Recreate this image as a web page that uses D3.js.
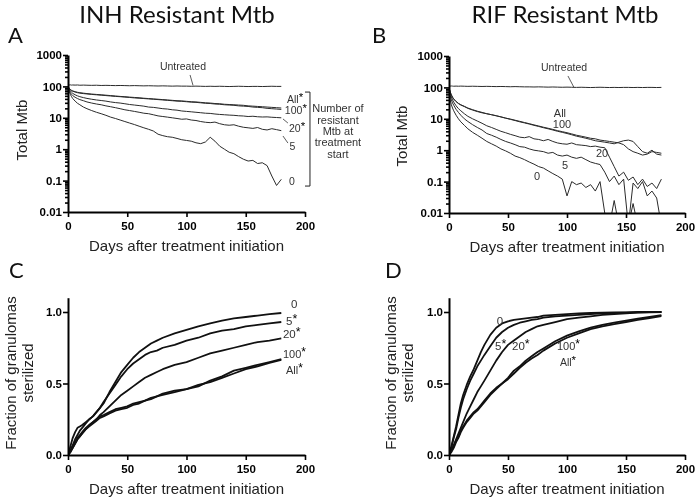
<!DOCTYPE html>
<html><head><meta charset="utf-8">
<script src="https://cdn.jsdelivr.net/npm/d3@7/dist/d3.min.js"></script>
<style>body{margin:0;background:#fff}svg{display:block;font-family:"Liberation Sans",Arial,sans-serif;opacity:0.999;will-change:transform}</style>
</head><body><svg id="c" width="698" height="501"></svg>
<script>
// ---------- DATA ----------
const daysTop = [0,1,2,3,4,6,8,10,13,16,20,24,28,32,36,40,44,48,52,56,60,64,68,72,76,80,84,88,92,96,100,104,108,112,116,120,124,128,132,136,140,144,148,152,156,160,164,168,172,176,180];
const daysBottom = [0,2,4,6,8,10,12,15,18,21,24,27,30,35,40,45,50,55,60,65,70,75,80,90,100,110,120,130,140,150,160,170,180];
const xTicks = [0,50,100,150,200];
const yTicksLog = [0.01,0.1,1,10,100,1000];
const yTickLabelsLog = ["0.01","0.1","1","10","100","1000"];
const yTicksFrac = [0,0.5,1.0];
const yTickLabelsFrac = ["0.0","0.5","1.0"];

// Panel A: INH resistant, total Mtb
const inhUntreated = [112,111,112,110,111,110,111,109,110,109, 108,109,107,108,107,106,107,106,105,106, 105,104,105,104,103,104,103,102,103,102, 102,101,102,101,100,101,100,101,100,99, 100,101,100,99,100,100,99,100,101,100, 100];
const inhAll = [100,88,80,75,72,68,65,63,61,59, 57,55.5,54,52.5,51,49.5,48,47,45.5,44.5, 43.5,42,41,40,39,38,37,36,35,34.5, 33.5,32.5,32,31,30,29.5,28.5,28,27,26.5, 26,25.5,25,24,23.5,23,22.5,22,21.5,21, 20.5];
const inh100 = [100,86,78,73,70,66,63,61,59,57.5, 55.5,54,52.5,51,49.5,48,47,45.5,44.5,43, 42,41,40,39,38,37,36,35,34,33.5, 32.5,31.5,31,30,29,28.5,27.5,27,26,25.5, 25,24,23.5,23,22,21.5,21,20,19.5,19, 18.5];
const inh20 = [100,82,72,65,60,54,50,47,44,41.5, 39,37,35.5,34,32,30.5,29.5,28,26.5,25.5, 24.5,23.5,22,21.5,20.5,19.5,19,18,17.5,16.5, 16,15.5,15,14.5,14,13.8,13.2,12.8,12.5,12.2, 12,11.6,11.4,11,11.2,10.8,10.6,10.7,10.4,10.2, 10];
const inh5 = [100,76,63,56,51,45,41,38,35,32, 29.5,27.5,26,24,22.5,21,19.5,18,17,16, 15,14,13.5,12.5,11.5,11,10.5,10,9.5,9, 9.2,8.5,8.2,7.6,7.2,7,7.3,6.5,6,5.8, 6,5.4,5,4.8,4.6,4.9,4.3,4.1,4.5,4.2, 3.9];
const inh0 = [100,70,56,47,41,34,29,26,22,19.5, 17,15,13.5,12,10.5,9.5,8.5,7.6,6.8,6.1, 5.4,4.8,4.3,3.8,3.0,2.7,2.5,2.4,2.2,2.0, 1.9,1.8,1.6,1.5,1.7,2.4,1.8,1.25,1.0,0.8, 0.72,0.58,0.48,0.42,0.44,0.35,0.37,0.3,0.14,0.07, 0.11];

// Panel B: RIF resistant, total Mtb
const rifUntreated = [112,110,111,110,109,110,109,110,109,108, 109,108,107,108,107,106,107,106,105,106, 105,104,104,103,104,103,102,103,102,101, 102,101,100,101,100,99,100,101,100,99, 100,99,100,100,99,100,99,100,100,99, 100];
const rifAll = [100,72,58,49,43,36,31,28,25,22, 19.5,17.5,16,14.5,13.5,12.5,11.5,10.5,9.8,9, 8.3,7.6,7,6.4,5.9,5.4,5,4.6,4.2,3.9, 3.6,3.3,3.0,2.8,2.6,2.4,2.3,2.1,2.0,1.9, 1.8,1.7,1.5,1.1,0.9,0.8,0.7,0.75,0.9,0.85, 0.8];
const rif100 = [100,70,57,48,42,35,30.5,27.5,24.5,21.5, 19,17,15.5,14.5,13.5,12.5,11.5,10.5,9.6,8.8, 8,7.4,6.8,6.2,5.7,5.2,4.8,4.4,4,3.7, 3.4,3.1,2.8,2.6,2.4,2.2,2.0,1.9,1.8,1.7, 1.6,1.8,2.0,2.1,1.9,1.3,0.9,0.8,1.0,0.75, 0.7];
const rif20 = [100,65,50,40,34,26,21,18,14.5,12, 10,8.5,7.2,6.0,5.3,4.6,4.0,3.6,3.2,2.9, 2.6,2.5,2.7,2.3,2.2,2.0,2.2,1.9,1.7,1.6, 1.55,1.7,1.5,1.45,1.4,1.3,1.35,1.25,1.2,0.6, 0.3,0.15,0.2,0.11,0.14,0.08,0.12,0.07,0.09,0.06, 0.12];
const rif5 = [100,55,40,32,27,20,16,13,10,8.2, 6.5,5.3,4.4,3.4,3.0,2.6,2.2,1.9,1.7,1.5, 1.3,1.25,1.1,1.0,0.95,0.9,0.8,0.85,0.7,0.65, 0.7,0.6,0.55,0.6,0.5,0.42,0.38,0.35,0.2,0.1, 0.15,0.08,0.12,0.004,0.09,0.06,0.1,0.035,0.05,0.03, 0.004];
const rif0 = [100,40,28,22,18,13,10,8,6.2,4.8, 3.7,3.0,2.4,1.9,1.6,1.35,1.1,0.95,0.8,0.65, 0.58,0.5,0.42,0.36,0.3,0.27,0.22,0.18,0.15,0.12, 0.035,0.1,0.08,0.09,0.065,0.08,0.05,0.1,0.01,0.004, 0.025,0.004,0.004,0.004,0.02,0.004,0.004,0.004,0.004,0.004, 0.004];

// Panel C: INH, fraction of granulomas sterilized
const inhSter0 = [0,0.06,0.12,0.16,0.19,0.2,0.21, 0.23,0.25,0.27,0.3,0.33,0.36, 0.44,0.51,0.58,0.63,0.68,0.72,0.75,0.78,0.8,0.82, 0.85,0.875,0.9,0.92,0.94,0.955,0.965,0.975,0.985,0.993];
const inhSter5 = [0,0.03,0.07,0.11,0.14,0.17,0.19, 0.22,0.25,0.27,0.3,0.33,0.37, 0.43,0.49,0.55,0.6,0.64,0.67,0.7,0.72,0.73,0.75, 0.77,0.8,0.82,0.85,0.87,0.88,0.9,0.91,0.92,0.93];
const inhSter20 = [0,0.02,0.05,0.08,0.11,0.13,0.15, 0.18,0.21,0.23,0.25,0.28,0.3, 0.34,0.38,0.42,0.45,0.48,0.51,0.54,0.56,0.58,0.6, 0.63,0.65,0.68,0.71,0.73,0.75,0.77,0.79,0.8,0.815];
const inhSter100 = [0,0.03,0.06,0.09,0.12,0.14,0.16, 0.19,0.21,0.23,0.25,0.27,0.28, 0.3,0.32,0.33,0.34,0.36,0.37,0.38,0.4,0.41,0.42, 0.44,0.46,0.48,0.52,0.55,0.59,0.61,0.63,0.65,0.67];
const inhSterAll = [0,0.02,0.05,0.08,0.11,0.13,0.15, 0.18,0.2,0.22,0.24,0.26,0.27, 0.29,0.31,0.32,0.33,0.35,0.36,0.38,0.39,0.41,0.43, 0.45,0.46,0.49,0.51,0.54,0.57,0.6,0.62,0.645,0.665];

// Panel D: RIF, fraction of granulomas sterilized
const rifSter0 = [0,0.06,0.13,0.2,0.28,0.36,0.42, 0.49,0.55,0.6,0.66,0.72,0.77, 0.84,0.89,0.92,0.935,0.945,0.95,0.955,0.96,0.965,0.975, 0.98,0.985,0.99,0.993,0.995,0.997,0.998,1,1,1];
const rifSter5 = [0,0.05,0.12,0.18,0.26,0.33,0.39, 0.46,0.52,0.57,0.62,0.66,0.7, 0.76,0.82,0.86,0.89,0.91,0.925,0.935,0.945,0.95,0.96, 0.97,0.975,0.98,0.985,0.99,0.993,0.996,0.998,1,1];
const rifSter20 = [0,0.03,0.07,0.11,0.15,0.19,0.23, 0.29,0.34,0.39,0.44,0.48,0.52, 0.59,0.66,0.72,0.77,0.8,0.83,0.86,0.88,0.9,0.91, 0.93,0.95,0.96,0.97,0.98,0.985,0.99,0.995,0.998,1];
const rifSter100 = [0,0.03,0.06,0.1,0.13,0.17,0.2, 0.24,0.27,0.3,0.32,0.35,0.38, 0.43,0.47,0.5,0.54,0.59,0.62,0.66,0.69,0.72,0.745, 0.795,0.835,0.865,0.89,0.91,0.925,0.94,0.953,0.965,0.978];
const rifSterAll = [0,0.02,0.05,0.09,0.12,0.16,0.19, 0.23,0.26,0.29,0.31,0.34,0.37, 0.42,0.46,0.5,0.53,0.57,0.61,0.645,0.675,0.70,0.73, 0.78,0.82,0.85,0.88,0.9,0.915,0.93,0.945,0.958,0.972];

// ---------- DRAWING ----------
const svg = d3.select("#c");
const minorLog = [];
for (let k = -2; k < 3; k++) for (let m = 2; m < 10; m++) minorLog.push(m * Math.pow(10, k));

function styleAxis(a) {
  a.select(".domain").attr("stroke", "#000").attr("stroke-width", 2);
  a.selectAll(".tick line").attr("stroke", "#000").attr("stroke-width", 1.6);
  a.selectAll(".tick text").attr("font-family", "Liberation Sans, Arial, sans-serif")
    .attr("font-weight", "bold").attr("font-size", 11.5).attr("fill", "#000");
}

function addText(g, t, x, y, opts = {}) {
  const size = opts.size || 11;
  const el = g.append("text").attr("x", x).attr("y", y)
    .attr("text-anchor", opts.anchor || "start")
    .attr("font-size", size)
    .attr("fill", opts.fill || "#333");
  const parts = t.split("*");
  el.append("tspan").text(parts[0]);
  if (t.includes("*")) el.append("tspan").text("*").attr("dy", -2).attr("font-size", size + 1).attr("fill", "#000");
  return el;
}

function drawPanel(o) {
  const g = svg.append("g");
  const x = d3.scaleLinear().domain([0, 200]).range(o.xr);
  const y = o.log ? d3.scaleLog().domain([0.01, 1000]).range(o.yr)
                  : d3.scaleLinear().domain([0, 1.1]).range(o.yr);
  const days = o.log ? daysTop : daysBottom;
  const clipId = "clip" + o.key;
  svg.append("clipPath").attr("id", clipId).append("rect")
    .attr("x", o.xr[0]).attr("y", o.yr[1]).attr("width", o.xr[1] - o.xr[0]).attr("height", o.yr[0] - o.yr[1]);
  const line = d3.line().x((d, i) => x(days[i])).y(d => y(d));
  o.series.forEach(s => {
    g.append("path").attr("d", line(s)).attr("fill", "none")
      .attr("stroke", o.log ? "#2a2a2a" : "#111")
      .attr("stroke-width", o.log ? 1 : 1.8)
      .attr("stroke-linejoin", "round")
      .attr("clip-path", `url(#${clipId})`);
  });
  // axes
  if (o.log) {
    g.append("g").attr("transform", `translate(${o.xr[0]},0)`)
      .call(d3.axisLeft(y).tickValues(minorLog).tickSize(3).tickFormat(""))
      .call(a => { a.select(".domain").remove(); a.selectAll(".tick line").attr("stroke-width", 1.6); });
    g.append("g").attr("transform", `translate(${o.xr[0]},0)`)
      .call(d3.axisLeft(y).tickValues(yTicksLog).tickSize(5).tickSizeOuter(0).tickPadding(1)
        .tickFormat((d, i) => yTickLabelsLog[i]))
      .call(styleAxis);
  } else {
    g.append("g").attr("transform", `translate(${o.xr[0]},0)`)
      .call(d3.axisLeft(y).tickValues(yTicksFrac).tickSize(5).tickSizeOuter(0).tickPadding(1)
        .tickFormat((d, i) => yTickLabelsFrac[i]))
      .call(styleAxis);
  }
  g.append("g").attr("transform", `translate(0,${o.yr[0]})`)
    .call(d3.axisBottom(x).tickValues(xTicks).tickSize(5).tickSizeOuter(0).tickPadding(5))
    .call(styleAxis);

  // axis titles
  g.append("text").attr("x", d3.mean(o.xr)).attr("y", o.yr[0] + 39).attr("text-anchor", "middle")
    .attr("font-size", 15).attr("font-weight", 400).attr("fill", "#222").text("Days after treatment initiation");
  o.yTitle.forEach((t, i) => {
    g.append("text").attr("transform", `translate(${o.yTitleX[i]},${o.yTitleY}) rotate(-90)`)
      .attr("text-anchor", "middle").attr("font-size", 15).attr("font-weight", 400).attr("fill", "#222").text(t);
  });
  // labels
  o.labels.forEach(l => addText(g, l.t, x(l.d), y(l.v), { anchor: l.a || "start", size: l.s || 11 }));
  (o.leaders || []).forEach(l => g.append("line")
    .attr("x1", x(l[0])).attr("y1", y(l[1])).attr("x2", x(l[2])).attr("y2", y(l[3]))
    .attr("stroke", "#333").attr("stroke-width", 0.8));
  return { g, x, y };
}

// titles + panel letters
svg.append("text").attr("x", 177).attr("y", 23).attr("text-anchor", "middle")
  .attr("font-family", "Lato").attr("font-size", 24).attr("fill", "#111").text("INH Resistant Mtb");
svg.append("text").attr("x", 565).attr("y", 23).attr("text-anchor", "middle")
  .attr("font-family", "Lato").attr("font-size", 24).attr("fill", "#111").text("RIF Resistant Mtb");
[["A", 8, 43], ["B", 372, 43], ["C", 9, 278], ["D", 385, 278]].forEach(p =>
  svg.append("text").attr("x", p[1]).attr("y", p[2]).attr("font-family", "Lato")
    .attr("font-size", 22).attr("fill", "#111").text(p[0]));

// Panel A
const pA = drawPanel({
  key: "A", log: true, xr: [68, 305], yr: [212, 55],
  series: [inhUntreated, inhAll, inh100, inh20, inh5, inh0],
  yTitle: ["Total Mtb"], yTitleX: [27], yTitleY: 130,
  labels: [
    { t: "Untreated", d: 97, v: 330, a: "middle", s: 10.5 },
    { t: "All*", d: 184.8, v: 30, s: 10.5 },
    { t: "100*", d: 183, v: 12.8, s: 10.5 },
    { t: "20*", d: 186.5, v: 3.5, s: 10.5 },
    { t: "5", d: 187, v: 0.94, s: 10.5 },
    { t: "0", d: 186.5, v: 0.072, s: 10.5 }
  ],
  leaders: [[103, 231, 105.5, 108], [181.4, 9.2, 185.6, 6.8], [181.4, 2.63, 185.6, 1.57]]
});
// bracket + note in panel A
{
  const { g, x, y } = pA;
  const bx = x(204.2), bx0 = x(200);
  g.append("path").attr("fill", "none").attr("stroke", "#222").attr("stroke-width", 1)
    .attr("d", `M${bx0},${y(66)}H${bx}V${y(0.067)}H${bx0}`);
  ["Number of", "resistant", "Mtb at", "treatment", "start"].forEach((t, i) =>
    addText(g, t, x(227.8), y([15.3, 6.35, 2.83, 1.26, 0.525][i]), { anchor: "middle", size: 11 }));
}

// Panel B
drawPanel({
  key: "B", log: true, xr: [449, 685], yr: [213, 56],
  series: [rifUntreated, rifAll, rif100, rif20, rif5, rif0],
  yTitle: ["Total Mtb"], yTitleX: [407], yTitleY: 136,
  labels: [
    { t: "Untreated", d: 97.5, v: 333, a: "middle", s: 10.5 },
    { t: "All", d: 94, v: 11.4, a: "middle", s: 11 },
    { t: "100", d: 95.8, v: 5.1, a: "middle", s: 11 },
    { t: "20", d: 129.7, v: 0.61, a: "middle", s: 11 },
    { t: "5", d: 98.3, v: 0.25, a: "middle", s: 11 },
    { t: "0", d: 74.6, v: 0.112, a: "middle", s: 11 }
  ],
  leaders: [[100.8, 231, 105.9, 100]]
});

// Panel C
drawPanel({
  key: "C", log: false, xr: [68, 305], yr: [455, 297.7],
  series: [inhSter0, inhSter5, inhSter20, inhSter100, inhSterAll],
  yTitle: ["Fraction of granulomas", "sterilized"], yTitleX: [16, 33], yTitleY: 373,
  labels: [
    { t: "0", d: 188.2, v: 1.028, s: 11.5 },
    { t: "5*", d: 184, v: 0.909, s: 11.5 },
    { t: "20*", d: 181.4, v: 0.818, s: 11.5 },
    { t: "100*", d: 181.4, v: 0.68, s: 11 },
    { t: "All*", d: 184, v: 0.565, s: 11 }
  ]
});

// Panel D
drawPanel({
  key: "D", log: false, xr: [449, 685], yr: [455, 297.7],
  series: [rifSter0, rifSter5, rifSter20, rifSter100, rifSterAll],
  yTitle: ["Fraction of granulomas", "sterilized"], yTitleX: [396, 413], yTitleY: 373,
  labels: [
    { t: "0", d: 43.2, v: 0.909, a: "middle", s: 11.5 },
    { t: "5*", d: 39, v: 0.734, s: 11.5 },
    { t: "20*", d: 53.4, v: 0.734, s: 11.5 },
    { t: "100*", d: 91.5, v: 0.735, s: 11 },
    { t: "All*", d: 94, v: 0.625, s: 10.5 }
  ]
});
</script></body></html>
